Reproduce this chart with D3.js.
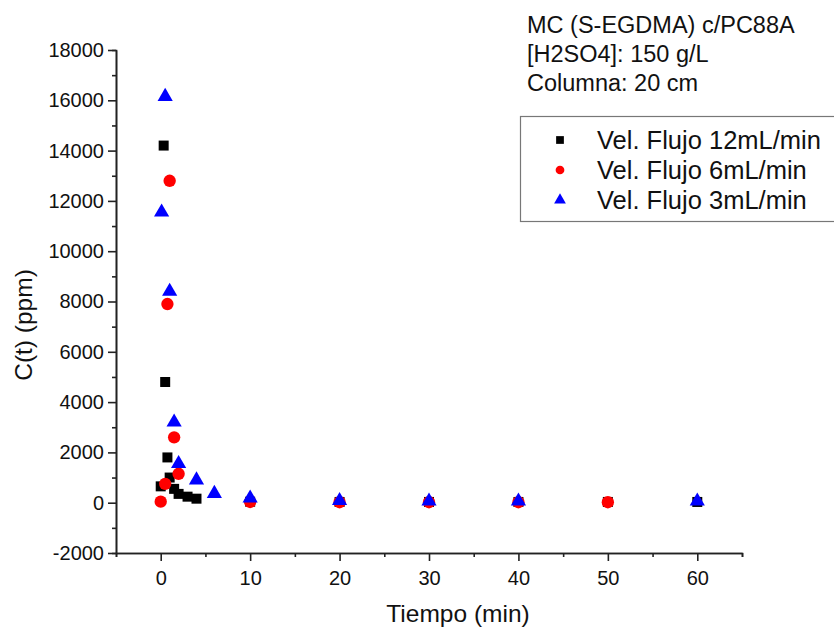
<!DOCTYPE html>
<html lang="es">
<head>
  <meta charset="utf-8">
  <title>C(t) vs Tiempo</title>
  <style>
    body {
      margin: 0;
      background: #fff;
      font-family: "Liberation Sans", Arial, sans-serif;
    }
    .axis path, .axis line { stroke: #222; stroke-width: 1.6; }
    .axis text { font-family: "Liberation Sans", Arial, sans-serif; font-size: 20px; fill: #111; }
  </style>
  <script src="https://cdn.jsdelivr.net/npm/d3@7"></script>
</head>
<body>
<div id="chart"></div>
<script>
// datos
var t12 = [0, 0.33, 0.5, 0.75, 1, 1.5, 2, 3, 4, 10, 20, 30, 40, 50, 60];
var c12 = [650, 14200, 4800, 1800, 1000, 550, 350, 240, 160, 40, 30, 30, 30, 30, 30];

var t6 = [0, 0.5, 0.75, 1, 1.5, 2, 10, 20, 30, 40, 50];
var c6 = [40, 750, 7900, 12800, 2600, 1150, 30, 20, 20, 20, 20];

var t3 = [0.1, 0.5, 1, 1.5, 2, 4, 6, 10, 20, 30, 40, 60];
var c3 = [11550, 16150, 8400, 3200, 1550, 900, 360, 180, 80, 60, 60, 60];

var seriesNames = ["Vel. Flujo 12mL/min", "Vel. Flujo 6mL/min", "Vel. Flujo 3mL/min"];
var xTicks = [0, 10, 20, 30, 40, 50, 60];
var yTicks = [-2000, 0, 2000, 4000, 6000, 8000, 10000, 12000, 14000, 16000, 18000];
var infoLines = ["MC (S-EGDMA) c/PC88A", "[H2SO4]: 150 g/L", "Columna: 20 cm"];

var W = 834, H = 628;
var svg = d3.select('#chart').append('svg')
  .attr('width', W)
  .attr('height', H);

var x = d3.scaleLinear().domain([-5, 65]).range([116, 742]);
var y = d3.scaleLinear().domain([-2000, 18000]).range([553, 50]);
var plain = function(d) { return String(d); };

// ejes con ticks menores
var xMinor = d3.range(-5, 66, 5).filter(function(d) { return d % 10 !== 0; });
var yMinor = d3.range(-1000, 18000, 2000);

svg.append('g')
  .attr('class', 'axis')
  .attr('transform', 'translate(0,553)')
  .call(d3.axisBottom(x).tickValues(xMinor).tickSize(4).tickFormat(''));
svg.append('g')
  .attr('class', 'axis')
  .attr('transform', 'translate(116,0)')
  .call(d3.axisLeft(y).tickValues(yMinor).tickSize(4).tickFormat(''));

svg.append('g')
  .attr('class', 'axis')
  .attr('transform', 'translate(0,553)')
  .call(d3.axisBottom(x).tickValues(xTicks).tickSize(8).tickSizeOuter(0).tickPadding(10).tickFormat(plain));
svg.append('g')
  .attr('class', 'axis')
  .attr('transform', 'translate(116,0)')
  .call(d3.axisLeft(y).tickValues(yTicks).tickSize(8).tickSizeOuter(0).tickPadding(4).tickFormat(plain));

// titulos de ejes
svg.append('text')
  .attr('x', 458).attr('y', 622)
  .attr('text-anchor', 'middle')
  .style('font-size', '24.5px')
  .attr('fill', '#111')
  .text('Tiempo (min)');
svg.append('text')
  .attr('transform', 'translate(32,325) rotate(-90)')
  .attr('text-anchor', 'middle')
  .style('font-size', '24.5px')
  .attr('fill', '#111')
  .text('C(t) (ppm)');

// puntos
var sq = d3.symbol().type(d3.symbolSquare).size(100);
var ci = d3.symbol().type(d3.symbolCircle).size(120);
var tr = d3.symbol().type(d3.symbolTriangle).size(100);

function drawSeries(ts, cs, sym, color) {
  svg.append('g').selectAll('path')
    .data(d3.range(ts.length))
    .enter().append('path')
    .attr('d', sym)
    .attr('fill', color)
    .attr('transform', function(i) {
      return 'translate(' + x(ts[i]) + ',' + y(cs[i]) + ')';
    });
}
drawSeries(t12, c12, sq, '#000');
drawSeries(t6, c6, ci, '#f00');
drawSeries(t3, c3, tr, '#00f');

// texto informativo
svg.append('g').selectAll('text')
  .data(infoLines)
  .enter().append('text')
  .attr('x', 527)
  .attr('y', function(d, i) { return 33 + i * 29; })
  .style('font-size', '23.5px')
  .attr('fill', '#111')
  .text(function(d) { return d; });

// leyenda
var leg = svg.append('g');
leg.append('rect')
  .attr('x', 520.5).attr('y', 116.5)
  .attr('width', 330).attr('height', 105)
  .attr('fill', '#fff')
  .attr('stroke', '#777')
  .attr('stroke-width', 1.2);
var legColors = ['#000', '#f00', '#00f'];
var legTypes = [d3.symbolSquare, d3.symbolCircle, d3.symbolTriangle];
seriesNames.forEach(function(name, i) {
  var ly = 140 + i * 30;
  leg.append('path')
    .attr('d', d3.symbol().type(legTypes[i]).size(60))
    .attr('fill', legColors[i])
    .attr('transform', 'translate(560,' + ly + ')');
  leg.append('text')
    .attr('x', 597).attr('y', ly + 9)
    .style('font-size', '25.5px')
    .attr('fill', '#111')
    .text(name);
});
</script>
</body>
</html>
